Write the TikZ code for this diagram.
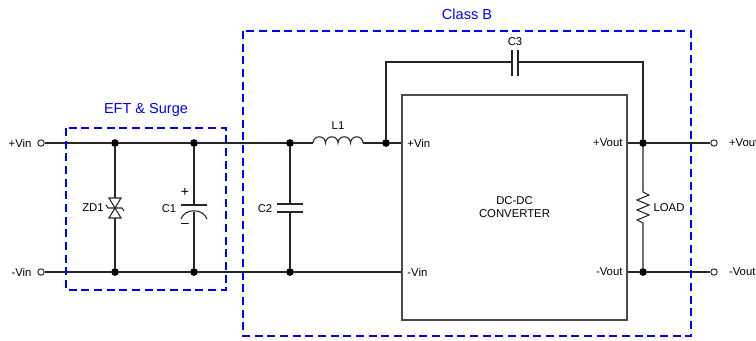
\documentclass[tikz,border=0pt]{standalone}
\usepackage{fontspec}
\setmainfont{Liberation Sans}
\usetikzlibrary{positioning}

\tikzset{
  wire/.style={draw=black!85, line width=0.8pt},
  part/.style={draw=black!85, line width=0.8pt},
  dot/.style={circle, fill=black, inner sep=0pt, minimum size=5.8pt},
  term/.style={circle, draw=black!85, fill=white, inner sep=0pt, minimum size=4.8pt, line width=0.7pt},
  zone/.style={draw=blue, line width=1.8pt, dash pattern=on 6pt off 3.5pt},
  convbox/.style={draw=black!70, line width=0.8pt, minimum width=168.75pt, minimum height=168.75pt, align=center, font=\fontsize{8.5}{9.8}\selectfont},
  lbl/.style={font=\fontsize{8.5}{9.8}\selectfont, inner sep=1pt},
  sign/.style={font=\fontsize{10.5}{11}\selectfont, inner sep=0pt},
  zonelbl/.style={text=blue, font=\fontsize{10.9}{12}\selectfont, inner sep=1pt},
}

\begin{document}
\begin{tikzpicture}[x=0.75pt, y=-0.75pt]
	\useasboundingbox (0,0) rectangle (756,340);

	% Terminals
	\node[term] (vinP) at (41,143) {};
	\node[term] (vinN) at (41,272) {};
	\node[term] (voutP) at (714,143) {};
	\node[term] (voutN) at (714,272) {};
	\node[lbl, left=3.2pt of vinP] (vinPtxt) {+Vin};
	\node[lbl, left=3.2pt of vinN] (vinNtxt) {-Vin};
	\node[lbl, right=7.3pt of voutP] (voutPtxt) {+Vout};
	\node[lbl, right=7.3pt of voutN] (voutNtxt) {-Vout};

	% Junctions
	\node[dot] (zdT) at (115,143) {};
	\node[dot] (zdB) at (115,272) {};
	\node[dot] (c1T) at (194,143) {};
	\node[dot] (c1B) at (194,272) {};
	\node[dot] (c2T) at (290,143) {};
	\node[dot] (c2B) at (290,272) {};
	\node[dot] (vinJ) at (386,143) {};
	\node[dot] (voutJP) at (643,143) {};
	\node[dot] (voutJN) at (643,272) {};

	% Converter
	\node[convbox] (conv) at (514.5,207.5) {DC-DC\\CONVERTER};
	\node[lbl, anchor=west] (pinVinP) at ([xshift=3.3pt]conv.west |- vinJ) {+Vin};
	\node[lbl, anchor=west] (pinVinN) at ([xshift=3.3pt]conv.west |- c2B) {-Vin};
	\node[lbl, anchor=east] (pinVoutP) at ([xshift=-2.6pt]conv.east |- voutJP) {+Vout};
	\node[lbl, anchor=east] (pinVoutN) at ([xshift=-2.6pt]conv.east |- voutJN) {-Vout};

	% Rails
	\coordinate (l1a) at (313,143);
	\coordinate (l1b) at (363,143);
	\draw[wire] (vinP) -- (zdT) -- (c1T) -- (c2T) -- (l1a);
	\draw[wire] (l1a) foreach \i in {1,...,4} { arc (180:360:6.25) };
	\node[lbl] (l1) at (338,126) {L1};
	\draw[wire] (l1b) -- (vinJ) -- (conv.west |- vinJ);
	\draw[wire] (vinN) -- (zdB) -- (c1B) -- (c2B) -- (conv.west |- c2B);
	\draw[wire] (conv.east |- voutJP) -- (voutJP) -- (voutP);
	\draw[wire] (conv.east |- voutJN) -- (voutJN) -- (voutN);

	% ZD1
	\begin{scope}[shift={(115,208)}]
		\draw[wire] (zdT) -- (zdB);
		\draw[part, fill=white] (-6,-10) -- (6,-10) -- (0,0) -- cycle;
		\draw[part, fill=white] (-6,10) -- (6,10) -- (0,0) -- cycle;
		\draw[part] (-9,-3) -- (-7,0) -- (7,0) -- (9,3);
		\node[lbl] (zd1) at (-22,0) {ZD1};
	\end{scope}

	% C1
	\begin{scope}[shift={(194,208)}]
		\draw[wire] (c1T) -- (0,-3);
		\draw[wire] (0,4) -- (c1B);
		\draw[part] (-13,-3) -- (13,-3);
		\draw[part] (-13,11) .. controls (-9,0) and (9,0) .. (13,11);
		\node[sign] (c1plus) at (-9,-16) {+};
		\node[sign] (c1minus) at (-9,17) {\textendash};
		\node[lbl] (c1) at (-25,1) {C1};
	\end{scope}

	% C2
	\begin{scope}[shift={(290,208)}]
		\draw[wire] (c2T) -- (0,-4);
		\draw[wire] (0,4) -- (c2B);
		\draw[part] (-13,-4) -- (13,-4);
		\draw[part] (-13,4) -- (13,4);
		\node[lbl] (c2) at (-25,1) {C2};
	\end{scope}

	% C3
	\coordinate (c3a) at (512,62);
	\coordinate (c3b) at (518,62);
	\draw[wire] (vinJ) |- (c3a);
	\draw[wire] (c3b) -| (voutJP);
	\draw[part] (512,50) -- (512,76);
	\draw[part] (518,50) -- (518,76);
	\node[lbl] (c3) at (515,42) {C3};

	% LOAD
	\coordinate (loadT) at (643,192);
	\coordinate (loadB) at (643,223);
	\draw[wire] (voutJP) -- (loadT) -- (649,195) -- (637,200) -- (649,205) -- (637,210)
		-- (649,215) -- (637,220) -- (loadB) -- (voutJN);
	\node[lbl] (load) at (669,208) {LOAD};

	% Zones
	\draw[zone] (66,128) rectangle (226,290);
	\node[zonelbl] (eft) at (146,110) {EFT \& Surge};
	\draw[zone] (243,31) rectangle (691,336);
	\node[zonelbl] (classb) at (467,14) {Class B};
\end{tikzpicture}
\end{document}
